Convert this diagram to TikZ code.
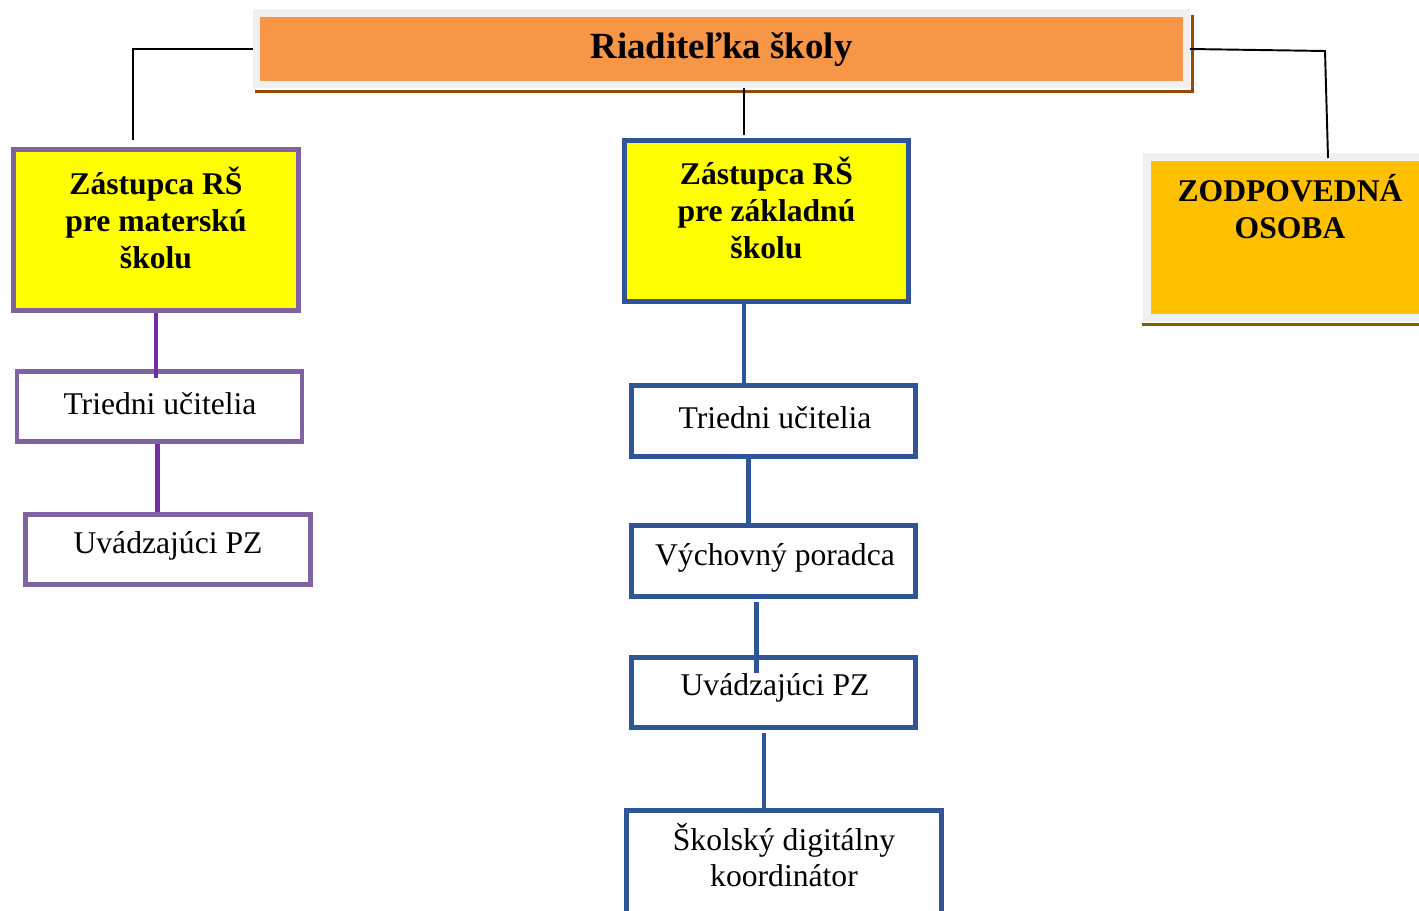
\documentclass[tikz,border=0pt]{standalone}
\usepackage{fontspec}
\setmainfont{Liberation Serif}
\usetikzlibrary{positioning}
\definecolor{orgfill}{HTML}{F79646}
\definecolor{orgshadow}{HTML}{984807}
\definecolor{framegray}{HTML}{F0F0F0}
\definecolor{purpline}{HTML}{8064A2}
\definecolor{purpconn}{HTML}{7030A0}
\definecolor{blueline}{HTML}{2F5597}
\definecolor{yelfill}{HTML}{FFFF00}
\definecolor{goldfill}{HTML}{FFC000}
\definecolor{goldshadow}{HTML}{7F6000}
\tikzset{
    every node/.style={font=\fontsize{18}{20.5}\selectfont, align=center},
    headtext/.style={font=\fontsize{18}{21}\selectfont\bfseries},
    mbox/.style={draw=purpline, line width=2.8pt, fill=white, minimum width=5.7cm, minimum height=1.4cm},
    zbox/.style={draw=blueline, line width=2.8pt, fill=white, minimum width=5.68cm, minimum height=1.42cm},
    mconn/.style={draw=purpconn, line width=2.8pt},
    zconn/.style={draw=blueline, line width=2.8pt},
    conn/.style={draw=black, line width=1.1pt}
}
\begin{document}
\begin{tikzpicture}[x=0.02cm, y=-0.02cm]
    \useasboundingbox (0,0) rectangle (1419,911);
    % riaditelka
    \node[draw=framegray, line width=4pt, fill=orgfill, minimum width=18.6cm, minimum height=1.44cm,
          font=\fontsize{21}{24}\selectfont\bfseries] (riad) at (721.5,49) {Riaditeľka školy};
    \draw[orgshadow, line width=1.6pt] ([xshift=1pt,yshift=-1.6pt]riad.south west) -| ([xshift=1.4pt,yshift=-3pt]riad.north east);
    \coordinate (ltop) at (133,140);
    \coordinate (mtop) at (744,135);
    \coordinate (rbend) at (1325,51);
    \coordinate (rtop) at (1328,158);
    % materska skola
    \node[mbox, fill=yelfill, minimum height=3.22cm] (zms) at (156,230) {};
    \node[headtext] (zms-t) at (156,218) {Zástupca RŠ\\pre materskú\\školu};
    \node[mbox] (tum) at (159.5,406.5) {};
    \node (tum-t) at (160,404) {Triedni učitelia};
    \node[mbox] (uvm) at (168,549.5) {};
    \node (uvm-t) at (168,546) {Uvádzajúci PZ};
    % zakladna skola
    \node[zbox, fill=yelfill, minimum height=3.22cm] (zzs) at (766.5,221) {};
    \node[headtext] (zzs-t) at (766.5,208) {Zástupca RŠ\\pre základnú\\školu};
    \node[zbox] (tuz) at (773.5,421) {};
    \node (tuz-t) at (775,418) {Triedni učitelia};
    \node[zbox] (vyp) at (773.5,561) {};
    \node (vyp-t) at (775,558) {Výchovný poradca};
    \node[zbox, minimum height=1.4cm] (uvz) at (773.5,692.5) {};
    \node (uvz-t) at (775,688) {Uvádzajúci PZ};
    \node[zbox, minimum width=6.3cm, minimum height=2.14cm] (skd) at (784,864) {};
    \node (skd-t) at (784,855) {Školský digitálny\\koordinátor};
    % zodpovedna osoba
    \node[draw=framegray, line width=4.5pt, fill=goldfill, minimum width=5.75cm, minimum height=3.22cm] (zodp) at (1291,237.5) {};
    \node[headtext] (zodp-t) at (1290,206.5) {ZODPOVEDNÁ\\OSOBA};
    \draw[goldshadow, line width=1.7pt] ([xshift=-1pt,yshift=-1.4pt]zodp.south west) -- ([yshift=-1.4pt]zodp.south east);
    % spojnice
    \draw[conn] (riad.west) -| (ltop);
    \draw[conn] (mtop |- riad.south) -- (mtop);
    \draw[conn] (riad.east) -- (rbend) -- (rtop);
    \draw[mconn] (zms.south) -- ([yshift=-5pt]zms.south |- tum.north);
    \draw[mconn] ([xshift=-1pt]tum.south) -- ([xshift=-1pt]tum.south |- uvm.north);
    \draw[zconn] (mtop |- zzs.south) -- ([yshift=-3pt]mtop |- tuz.north);
    \draw[zconn] ([xshift=-14pt,yshift=2pt]tuz.south) -- ([xshift=-14pt]tuz.south |- vyp.north);
    \draw[zconn] ([xshift=-9.8pt,yshift=-1.5pt]vyp.south) -- ([xshift=-9.8pt,yshift=-10pt]vyp.south |- uvz.north);
    \draw[zconn] ([xshift=-5.4pt,yshift=-1.5pt]uvz.south) -- ([xshift=-5.4pt]uvz.south |- skd.north);
\end{tikzpicture}
\end{document}
